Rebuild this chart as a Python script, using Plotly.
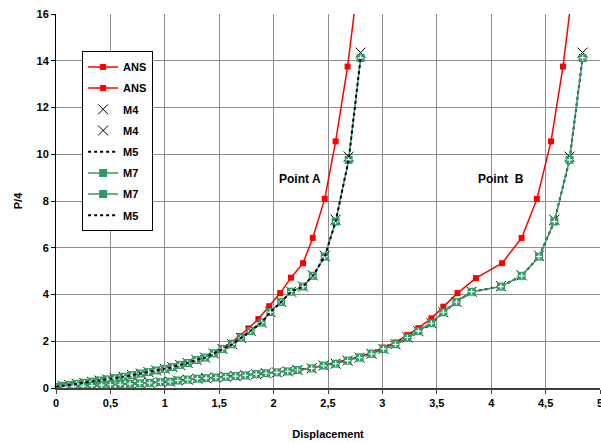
import plotly.graph_objects as go

# ---------------- data ----------------
# Point A
m7_a_x = [0.00, 0.06, 0.12, 0.19, 0.26, 0.33, 0.40, 0.47, 0.54, 0.62, 0.70, 0.78, 0.85, 0.92, 1.00, 1.07,
          1.14, 1.21, 1.29, 1.37, 1.45, 1.53, 1.62, 1.70, 1.79, 1.89, 1.97, 2.07, 2.16, 2.27, 2.36, 2.47,
          2.57, 2.69, 2.80]
m7_a_y = [0.05, 0.09, 0.13, 0.18, 0.22, 0.27, 0.32, 0.37, 0.42, 0.48, 0.55, 0.62, 0.68, 0.75, 0.82, 0.89,
          0.99, 1.07, 1.20, 1.30, 1.48, 1.67, 1.87, 2.14, 2.44, 2.80, 3.25, 3.68, 4.12, 4.34, 4.80, 5.62,
          7.12, 9.76, 14.12]
m4_a_y = [0.05, 0.09, 0.13, 0.18, 0.22, 0.27, 0.32, 0.37, 0.42, 0.48, 0.55, 0.62, 0.68, 0.75, 0.82, 0.89,
          0.99, 1.07, 1.20, 1.30, 1.48, 1.67, 1.87, 2.14, 2.44, 2.80, 3.25, 3.68, 4.12, 4.34, 4.82, 5.66,
          7.20, 9.90, 14.35]
ans_a_x = [0.00, 0.06, 0.12, 0.19, 0.26, 0.33, 0.40, 0.47, 0.54, 0.62, 0.70, 0.78, 0.85, 0.92, 1.00, 1.07,
           1.14, 1.21, 1.29, 1.37, 1.45, 1.53, 1.61, 1.69, 1.77, 1.86, 1.96, 2.06, 2.16, 2.27, 2.36, 2.47,
           2.57, 2.68, 2.79]
ans_a_y = [0.05, 0.09, 0.13, 0.18, 0.22, 0.27, 0.32, 0.37, 0.42, 0.48, 0.55, 0.62, 0.68, 0.75, 0.83, 0.90,
           1.00, 1.09, 1.22, 1.33, 1.51, 1.71, 1.93, 2.22, 2.55, 2.95, 3.50, 4.06, 4.72, 5.34, 6.42, 8.09,
           10.55, 13.75, 17.90]

# Point B
m7_b_x = [0.00, 0.08, 0.16, 0.25, 0.33, 0.42, 0.50, 0.59, 0.68, 0.77, 0.86, 0.96, 1.05, 1.12, 1.21, 1.30,
          1.38, 1.47, 1.56, 1.65, 1.74, 1.84, 1.93, 2.03, 2.13, 2.22, 2.35, 2.46, 2.57, 2.68, 2.79, 2.90,
          3.01, 3.12, 3.23, 3.33, 3.45, 3.56, 3.68, 3.82, 4.09, 4.28, 4.44, 4.58, 4.72, 4.84]
m7_b_y = [0.02, 0.04, 0.06, 0.08, 0.10, 0.12, 0.14, 0.16, 0.18, 0.20, 0.22, 0.25, 0.27, 0.32, 0.36, 0.40,
          0.42, 0.45, 0.48, 0.51, 0.54, 0.59, 0.63, 0.67, 0.71, 0.77, 0.84, 0.96, 1.04, 1.17, 1.30, 1.46,
          1.67, 1.87, 2.16, 2.43, 2.77, 3.24, 3.68, 4.12, 4.34, 4.80, 5.62, 7.12, 9.76, 14.12]
m4_b_y = [0.02, 0.04, 0.06, 0.08, 0.10, 0.12, 0.14, 0.16, 0.18, 0.20, 0.22, 0.25, 0.27, 0.32, 0.36, 0.40,
          0.42, 0.45, 0.48, 0.51, 0.54, 0.59, 0.63, 0.67, 0.71, 0.77, 0.84, 0.96, 1.04, 1.17, 1.30, 1.46,
          1.67, 1.87, 2.16, 2.43, 2.77, 3.24, 3.68, 4.12, 4.36, 4.82, 5.66, 7.20, 9.90, 14.35]
ans_b_x = [0.00, 0.08, 0.16, 0.25, 0.33, 0.42, 0.50, 0.59, 0.68, 0.77, 0.86, 0.96, 1.05, 1.12, 1.21, 1.30,
           1.38, 1.47, 1.56, 1.65, 1.74, 1.84, 1.93, 2.03, 2.13, 2.22, 2.35, 2.46, 2.57, 2.68, 2.79, 2.90,
           3.01, 3.12, 3.23, 3.33, 3.45, 3.56, 3.69, 3.86, 4.10, 4.28, 4.42, 4.55, 4.66, 4.77]
ans_b_y = [0.02, 0.04, 0.06, 0.08, 0.10, 0.12, 0.14, 0.16, 0.18, 0.20, 0.22, 0.25, 0.28, 0.33, 0.37, 0.41,
           0.43, 0.46, 0.49, 0.52, 0.55, 0.60, 0.64, 0.68, 0.72, 0.78, 0.86, 0.98, 1.07, 1.20, 1.34, 1.51,
           1.73, 1.95, 2.27, 2.56, 2.98, 3.48, 4.06, 4.70, 5.34, 6.42, 8.09, 10.55, 13.75, 17.90]

x_ticks = [0, 0.5, 1, 1.5, 2, 2.5, 3, 3.5, 4, 4.5, 5]
y_ticks = [0, 2, 4, 6, 8, 10, 12, 14, 16]
labels = [("Point A", 2.24, 8.95), ("Point  B", 4.09, 8.95)]

# ---------------- styles ----------------
RED = "#FF0000"
GREEN = "#339966"
FONT = "Arial, Liberation Sans, sans-serif"

fig = go.Figure()

def ans(x, y, g):
    fig.add_trace(go.Scatter(x=x, y=y, name="ANS", mode="lines+markers", legendgroup=g,
                             line=dict(color=RED, width=1.5),
                             marker=dict(symbol="square", size=6, color=RED)))

def m4(x, y, g):
    fig.add_trace(go.Scatter(x=x, y=y, name="M4", mode="markers", legendgroup=g,
                             marker=dict(symbol="x-thin-open", size=10, color="black",
                                         line=dict(color="black", width=1))))

def m5(x, y, g):
    fig.add_trace(go.Scatter(x=x, y=y, name="M5", mode="lines", legendgroup=g,
                             line=dict(color="black", width=2, dash="dot")))

def m7(x, y, g):
    fig.add_trace(go.Scatter(x=x, y=y, name="M7", mode="lines+markers", legendgroup=g,
                             line=dict(color=GREEN, width=1.5),
                             marker=dict(symbol="square", size=8, color=GREEN,
                                         line=dict(color=GREEN, width=0))))
    fig.add_trace(go.Scatter(x=x, y=y, name="M7", mode="markers", legendgroup=g, showlegend=False,
                             hoverinfo="skip",
                             marker=dict(symbol="cross-thin-open", size=4, color="white",
                                         line=dict(color="white", width=1.2))))

ans(ans_a_x, ans_a_y, "g1")
ans(ans_b_x, ans_b_y, "g2")
m4(m7_a_x, m4_a_y, "g3")
m4(m7_b_x, m4_b_y, "g4")
m5(m7_b_x, m7_b_y, "g5")
m7(m7_a_x, m7_a_y, "g6")
m7(m7_b_x, m7_b_y, "g7")
m5(m7_a_x, m7_a_y, "g8")

for txt, lx, ly in labels:
    fig.add_annotation(x=lx, y=ly, text=txt, showarrow=False,
                       font=dict(family=FONT, size=12, color="black", weight="bold"))

fig.update_layout(
    width=601, height=443,
    margin=dict(l=56, r=1, t=14, b=55, autoexpand=False),
    paper_bgcolor="white", plot_bgcolor="white",
    separators=",.",
    font=dict(family=FONT, size=11, color="black"),
    legend=dict(x=0.048, y=0.9, xanchor="left", yanchor="top",
                bgcolor="white", bordercolor="black", borderwidth=1,
                font=dict(family=FONT, size=11, color="black", weight="bold"),
                tracegroupgap=2.2, itemwidth=30, traceorder="grouped"),
    showlegend=True,
)
fig.update_xaxes(range=[0, 5], tickvals=x_ticks, showgrid=True, gridcolor="#8c8c8c", gridwidth=1,
                 showline=True, linecolor="#404040", linewidth=2, zeroline=False, automargin=False,
                 ticks="outside", ticklen=4, tickcolor="#404040", ticklabeloverflow="allow",
                 tickfont=dict(family=FONT, size=11, color="black", weight="bold"),
                 title=dict(text="Displacement", standoff=22,
                            font=dict(family=FONT, size=11, color="black", weight="bold")))
fig.update_yaxes(range=[0, 16], tickvals=y_ticks, showgrid=True, gridcolor="#8c8c8c", gridwidth=1,
                 showline=True, linecolor="black", linewidth=1, zeroline=False, automargin=False,
                 ticks="outside", ticklen=4, tickcolor="black",
                 tickfont=dict(family=FONT, size=11, color="black", weight="bold"),
                 title=dict(text="P/4", standoff=11,
                            font=dict(family=FONT, size=11, color="black", weight="bold")))

fig.write_html("out.html", config={"displayModeBar": False},
               post_script="document.body.style.margin='0';document.body.style.overflow='hidden';")
